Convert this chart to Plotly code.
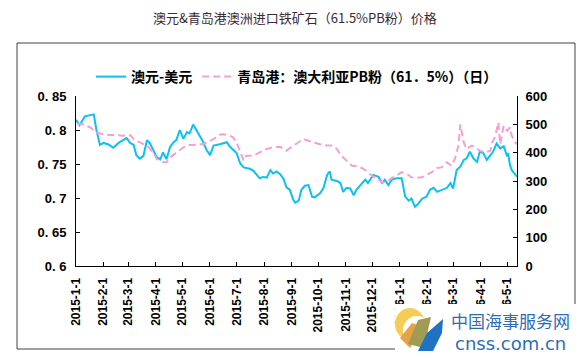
import plotly.graph_objects as go

# ---------------- data ----------------
aud_dates = ["2015-01-01","2015-01-05","2015-01-11","2015-01-17","2015-01-21","2015-01-24","2015-01-28",
             "2015-02-01","2015-02-06","2015-02-12","2015-02-18","2015-02-23","2015-02-27",
             "2015-03-03","2015-03-07","2015-03-10","2015-03-14","2015-03-18","2015-03-22","2015-03-25","2015-03-29",
             "2015-04-02","2015-04-06","2015-04-09","2015-04-13","2015-04-17","2015-04-21","2015-04-24","2015-04-28",
             "2015-05-02","2015-05-06","2015-05-09","2015-05-13","2015-05-17","2015-05-21","2015-05-24","2015-05-28",
             "2015-06-01","2015-06-05","2015-06-12","2015-06-20","2015-06-23","2015-06-27",
             "2015-07-01","2015-07-05","2015-07-09","2015-07-12","2015-07-16","2015-07-20","2015-07-24","2015-07-27","2015-07-31",
             "2015-08-04","2015-08-08","2015-08-11","2015-08-15","2015-08-19","2015-08-23","2015-08-26","2015-08-30",
             "2015-09-03","2015-09-05","2015-09-09","2015-09-12","2015-09-16","2015-09-20","2015-09-24","2015-09-27",
             "2015-10-03","2015-10-07","2015-10-11","2015-10-14","2015-10-16","2015-10-22","2015-10-26","2015-10-29",
             "2015-11-02","2015-11-06","2015-11-10","2015-11-13","2015-11-19","2015-11-23","2015-11-26",
             "2015-12-02","2015-12-08","2015-12-12","2015-12-15","2015-12-19","2015-12-23","2015-12-28",
             "2016-01-03","2016-01-07","2016-01-11","2016-01-14","2016-01-18","2016-01-22","2016-01-26","2016-01-31",
             "2016-02-04","2016-02-08","2016-02-12","2016-02-17","2016-02-23","2016-02-27",
             "2016-03-01","2016-03-05","2016-03-09","2016-03-13","2016-03-16","2016-03-20","2016-03-24","2016-03-28","2016-03-31",
             "2016-04-04","2016-04-08","2016-04-12","2016-04-15","2016-04-19","2016-04-23","2016-04-27",
             "2016-05-01","2016-05-02","2016-05-04","2016-05-06","2016-05-10","2016-05-12"]
aud_usd = [0.815,0.807,0.820,0.822,0.823,0.800,0.778,
           0.781,0.779,0.774,0.781,0.785,0.788,
           0.781,0.778,0.763,0.758,0.762,0.785,0.781,0.770,
           0.760,0.757,0.767,0.757,0.775,0.782,0.785,0.800,
           0.787,0.797,0.795,0.808,0.800,0.790,0.783,0.771,
           0.763,0.777,0.779,0.782,0.776,0.771,
           0.766,0.751,0.745,0.744,0.743,0.740,0.734,0.729,0.731,
           0.730,0.741,0.736,0.739,0.735,0.728,0.716,0.712,
           0.697,0.693,0.696,0.712,0.718,0.719,0.702,0.701,
           0.707,0.715,0.734,0.739,0.727,0.725,0.722,0.709,
           0.715,0.714,0.704,0.712,0.722,0.727,0.722,
           0.734,0.731,0.722,0.727,0.719,0.727,0.729,
           0.729,0.702,0.696,0.699,0.687,0.692,0.699,0.702,
           0.712,0.715,0.709,0.712,0.715,0.722,
           0.714,0.741,0.746,0.756,0.758,0.768,0.758,0.753,0.768,
           0.766,0.756,0.763,0.768,0.780,0.773,0.776,
           0.761,0.766,0.749,0.741,0.734,0.731]

ore_dates = ["2015-01-02","2015-01-09","2015-01-17","2015-01-24",
             "2015-02-01","2015-02-08","2015-02-16","2015-02-23",
             "2015-03-03","2015-03-07","2015-03-14","2015-03-22","2015-03-29",
             "2015-04-02","2015-04-09","2015-04-13","2015-04-17","2015-04-24",
             "2015-05-02","2015-05-09","2015-05-17","2015-05-24","2015-05-28",
             "2015-06-05","2015-06-12","2015-06-16","2015-06-23","2015-06-27",
             "2015-07-01","2015-07-05","2015-07-09","2015-07-12","2015-07-20","2015-07-27",
             "2015-08-04","2015-08-11","2015-08-19","2015-08-26",
             "2015-09-03","2015-09-09","2015-09-14","2015-09-20","2015-09-25",
             "2015-10-03","2015-10-11","2015-10-16","2015-10-22","2015-10-27",
             "2015-11-02","2015-11-08","2015-11-13","2015-11-19","2015-11-25","2015-11-30",
             "2015-12-06","2015-12-12","2015-12-17","2015-12-23","2015-12-28",
             "2016-01-03","2016-01-09","2016-01-14","2016-01-20","2016-01-26","2016-01-31",
             "2016-02-06","2016-02-12","2016-02-17","2016-02-23","2016-02-28",
             "2016-03-03","2016-03-07","2016-03-09","2016-03-11","2016-03-13","2016-03-16","2016-03-22","2016-03-26","2016-03-31",
             "2016-04-06","2016-04-12","2016-04-14","2016-04-17","2016-04-21","2016-04-23","2016-04-27",
             "2016-05-01","2016-05-04","2016-05-06","2016-05-10","2016-05-12"]
ore_price = [502,500,489,471,
             465,462,462,460,
             462,448,436,425,401,
             378,366,366,383,401,
             419,427,430,430,436,
             448,463,465,460,454,
             436,407,372,389,389,401,
             413,419,421,407,
             425,436,448,442,436,
             430,425,425,413,389,
             372,354,352,346,334,319,
             308,296,296,311,319,
             331,325,313,311,313,321,
             331,346,348,366,354,
             378,425,500,465,436,413,425,419,407,
             401,407,436,454,506,430,495,
             477,489,460,436,430]

tick_dates = ["2015-01-01","2015-02-01","2015-03-01","2015-04-01","2015-05-01","2015-06-01",
              "2015-07-01","2015-08-01","2015-09-01","2015-10-01","2015-11-01","2015-12-01",
              "2016-01-01","2016-02-01","2016-03-01","2016-04-01","2016-05-01"]
tick_labels = ["2015-1-1","2015-2-1","2015-3-1","2015-4-1","2015-5-1","2015-6-1",
               "2015-7-1","2015-8-1","2015-9-1","2015-10-1","2015-11-1","2015-12-1",
               "2016-1-1","2016-2-1","2016-3-1","2016-4-1","2016-5-1"]
left_vals = [0.6, 0.65, 0.7, 0.75, 0.8, 0.85]
left_labels = ["0. 6", "0. 65", "0. 7", "0. 75", "0. 8", "0. 85"]
right_vals = [0, 100, 200, 300, 400, 500, 600]

name_aud = "澳元-美元"
name_ore = "青岛港：澳大利亚PB粉（61．5%）（日）"
title_text = "澳元&青岛港澳洲进口铁矿石（61.5%PB粉）价格"

# ---------------- figure ----------------
W, H = 587, 358
L, R, T, B = 76, 517, 96, 266   # plot area in pixels


def px(x):
    return (x - L) / (R - L)


def py(y):
    return (B - y) / (B - T)


fig = go.Figure()
fig.add_trace(go.Scatter(x=aud_dates, y=aud_usd, name=name_aud, mode="lines",
                         line=dict(color="#0cc0f2", width=2), yaxis="y"))
fig.add_trace(go.Scatter(x=ore_dates, y=ore_price, name=name_ore, mode="lines",
                         line=dict(color="#f6a0d0", width=2, dash="7px,4px"), yaxis="y2"))

tickfont = dict(family="Liberation Sans, Arial", size=13, color="#000000", weight="bold")

fig.update_layout(
    width=W, height=H,
    margin=dict(l=L, r=W - R, t=T, b=H - B, pad=0),
    paper_bgcolor="white", plot_bgcolor="white",
    showlegend=True,
    legend=dict(orientation="h", x=px(297), xanchor="center", y=py(77), yanchor="middle",
                font=dict(family="Noto Sans CJK SC", size=14, color="#000000", weight="bold"),
                bgcolor="rgba(0,0,0,0)", itemwidth=30, traceorder="normal"),
    xaxis=dict(type="date", range=["2015-01-01", "2016-05-12"],
               tickvals=tick_dates, ticktext=tick_labels, tickangle=-90,
               ticks="inside", ticklen=4, tickcolor="black",
               showline=True, linecolor="black", linewidth=1, showgrid=False, zeroline=False,
               tickfont=dict(family="Liberation Sans, Arial", size=12, color="#000000", weight="bold"),
               ticklabelstandoff=6),
    yaxis=dict(range=[0.6, 0.85], tickvals=left_vals, ticktext=left_labels,
               ticks="inside", ticklen=4, tickcolor="black",
               showline=True, linecolor="black", linewidth=1, showgrid=False, zeroline=False,
               tickfont=tickfont, ticklabelstandoff=6),
    yaxis2=dict(range=[0, 600], tickvals=right_vals, overlaying="y", side="right",
                ticks="inside", ticklen=4, tickcolor="black",
                showline=True, linecolor="black", linewidth=1, showgrid=False, zeroline=False,
                tickfont=tickfont, ticklabelstandoff=5),
)

# title
fig.add_annotation(text=title_text, xref="paper", yref="paper", x=px(295), y=py(17),
                   xanchor="center", yanchor="middle", showarrow=False,
                   font=dict(family="Noto Sans CJK SC", size=13, color="#3a2a36"))

shapes = []
# outer chart border
shapes.append(dict(type="rect", xref="paper", yref="paper",
                   x0=px(17), x1=px(575), y0=py(349), y1=py(43),
                   line=dict(color="#404040", width=1), fillcolor="rgba(0,0,0,0)", layer="below"))
# watermark background
shapes.append(dict(type="rect", xref="paper", yref="paper",
                   x0=px(395), x1=px(587), y0=py(358), y1=py(304),
                   line=dict(width=0), fillcolor="white", layer="above"))


def poly(points, color):
    d = "M " + " L ".join(f"{px(a)},{py(b)}" for a, b in points) + " Z"
    return dict(type="path", xref="paper", yref="paper", path=d,
                fillcolor=color, line=dict(width=0), layer="above")


# logo (approximate)
shapes.append(dict(type="circle", xref="paper", yref="paper",
                   x0=px(395), x1=px(425), y0=py(340), y1=py(308),
                   fillcolor="#f5cc55", line=dict(width=0), layer="above"))
shapes.append(dict(type="circle", xref="paper", yref="paper",
                   x0=px(403), x1=px(431), y0=py(345), y1=py(316),
                   fillcolor="white", line=dict(width=0), layer="above"))
shapes.append(poly([(400, 338), (412, 323), (424, 327), (410, 348)], "#e8a246"))
shapes.append(poly([(408, 344), (418, 320), (431, 317), (424, 348)], "#a19c55"))
shapes.append(poly([(418, 351), (427, 333), (443, 319), (442, 333), (433, 351)], "#1f72c4"))
fig.update_layout(shapes=shapes)

fig.add_annotation(text="中国海事服务网", xref="paper", yref="paper", x=px(510), y=py(320),
                   xanchor="center", yanchor="middle", showarrow=False,
                   font=dict(family="Noto Sans CJK SC", size=17, color="#2d6db5"))
fig.add_annotation(text="cnss.com.cn", xref="paper", yref="paper", x=px(510), y=py(343),
                   xanchor="center", yanchor="middle", showarrow=False,
                   font=dict(family="DejaVu Sans", size=18, color="#2d6db5"))

fig.write_html("out.html", config={"displayModeBar": False},
               post_script="document.body.style.margin='0';")
